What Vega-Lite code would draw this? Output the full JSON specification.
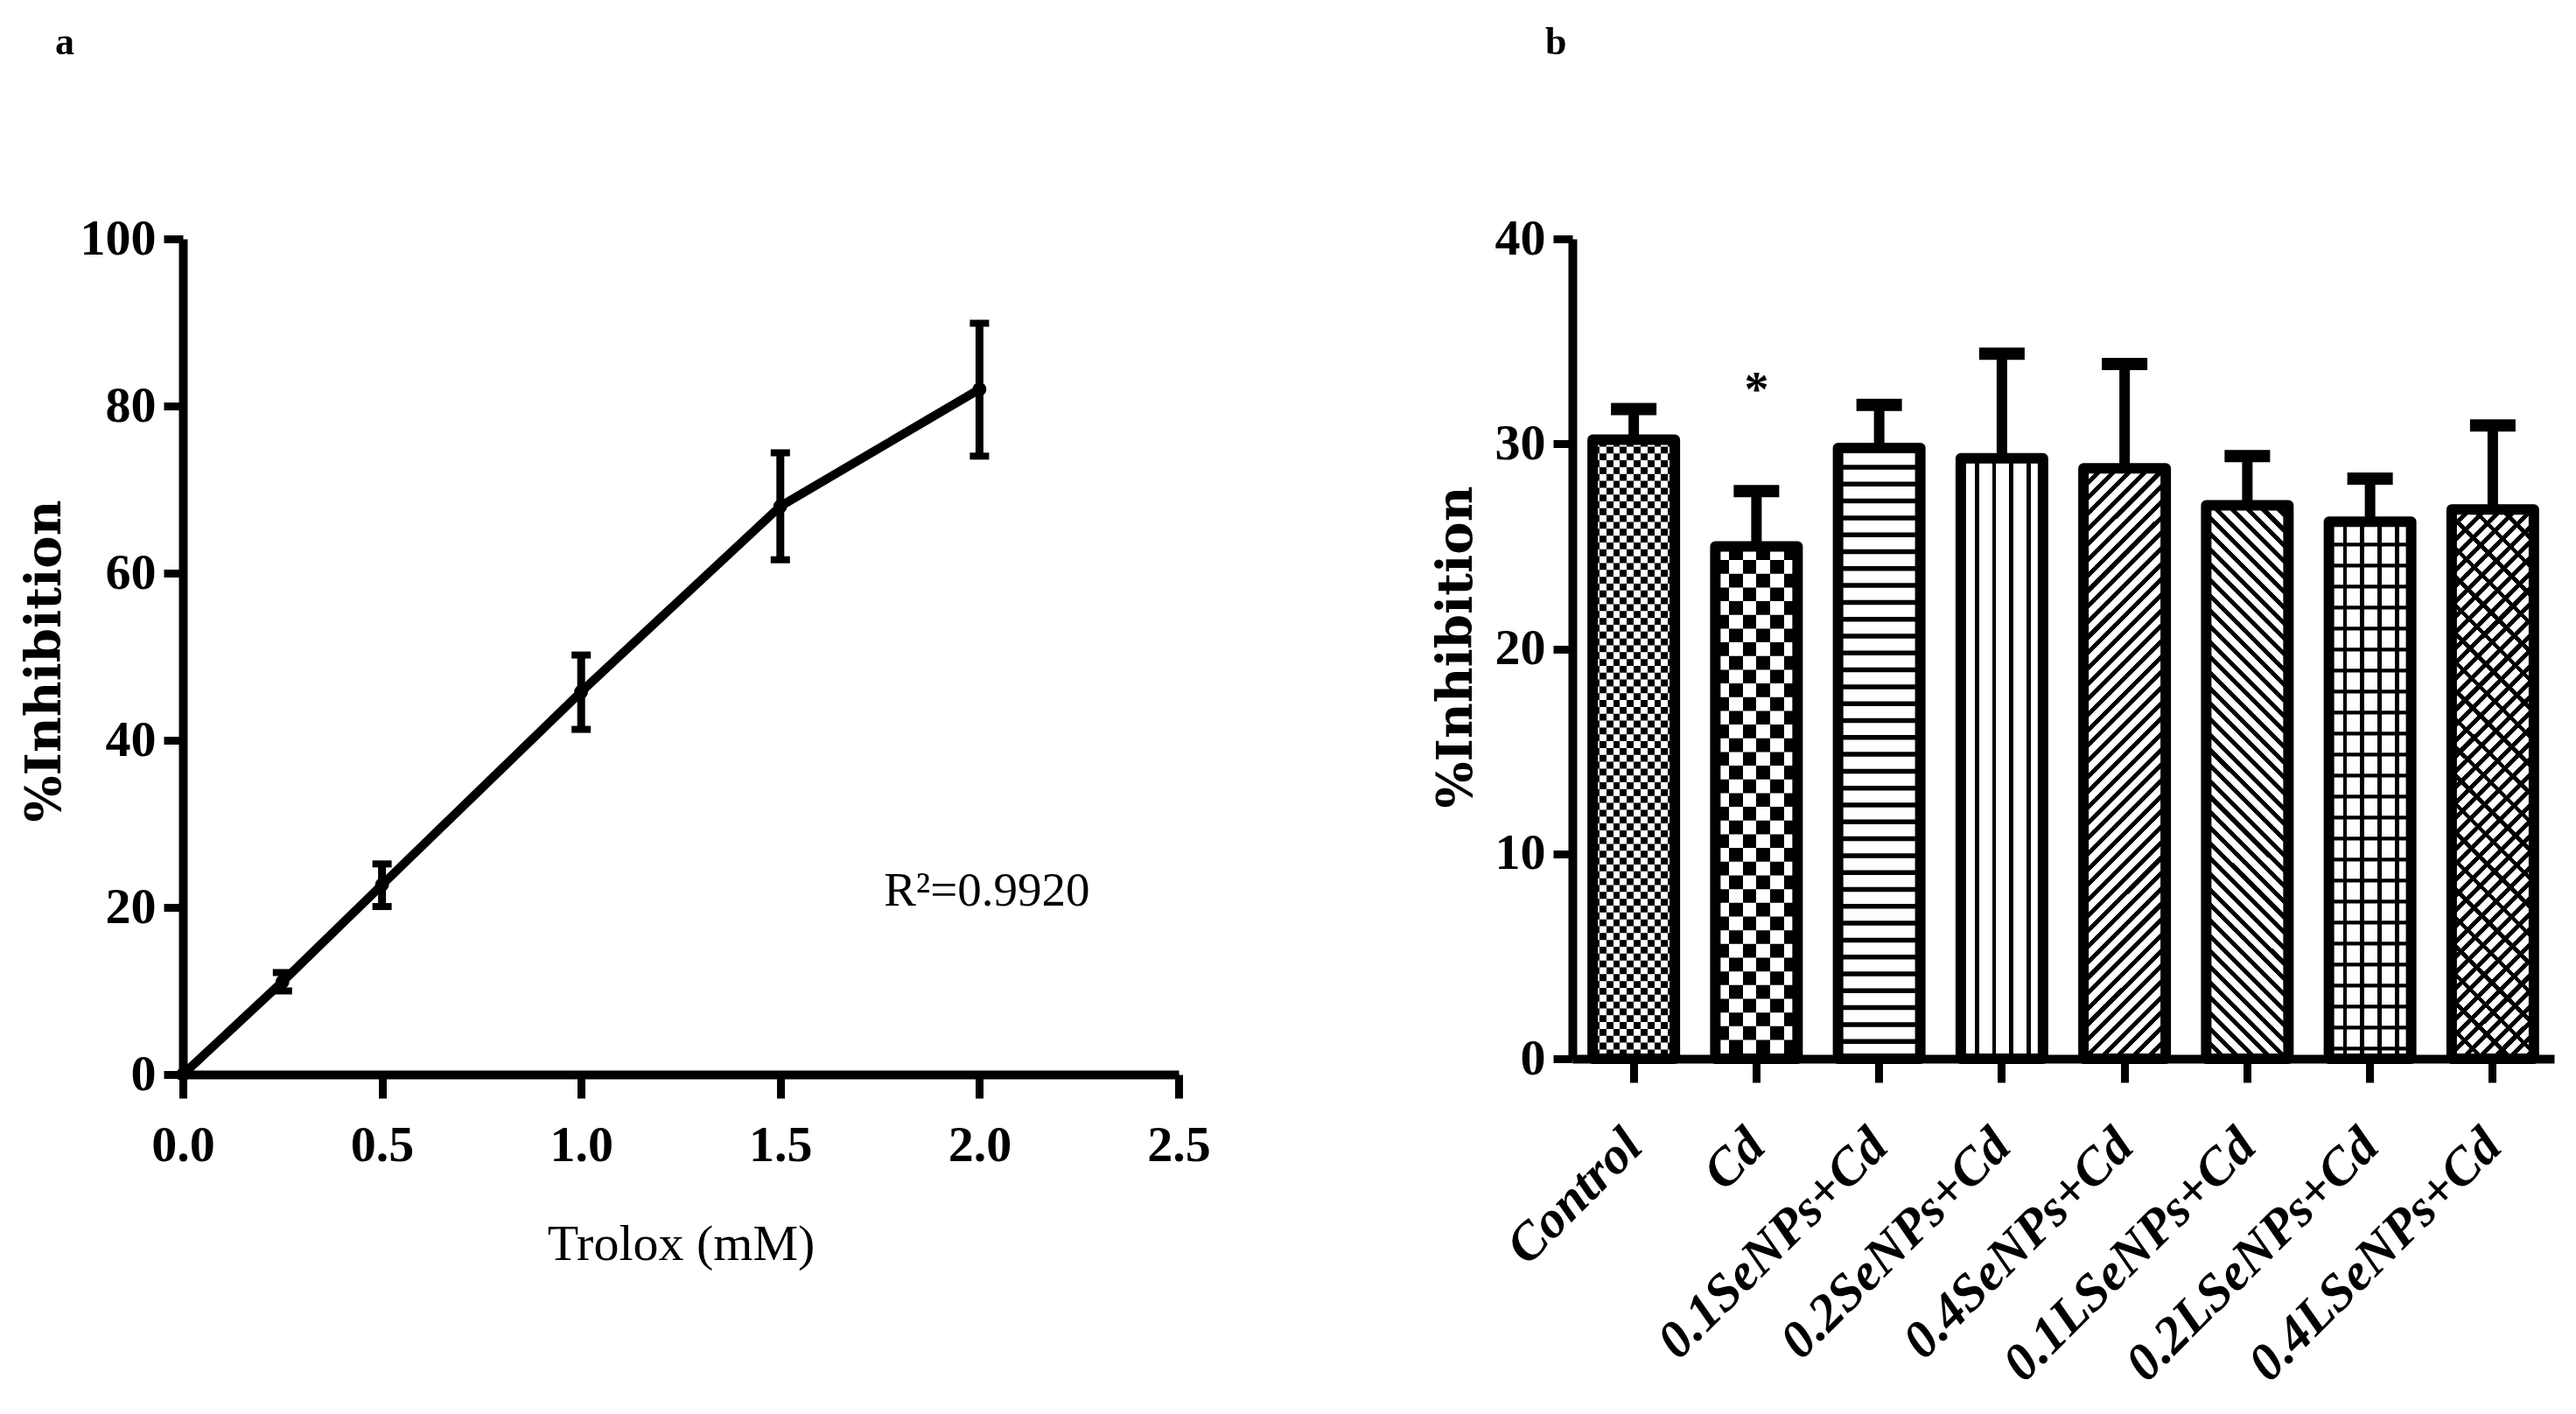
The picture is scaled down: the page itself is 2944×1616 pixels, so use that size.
{
  "$schema": "https://vega.github.io/schema/vega-lite/v6.json",
  "background": "white",
  "padding": {"left": 23, "top": 27, "right": 10, "bottom": 5},
  "params": [
    {"name": "vlines", "value": [
      {"offset":0,"color":"#fff"},{"offset":0.17,"color":"#fff"},{"offset":0.17,"color":"#000"},{"offset":0.22,"color":"#000"},
      {"offset":0.22,"color":"#fff"},{"offset":0.38,"color":"#fff"},{"offset":0.38,"color":"#000"},{"offset":0.43,"color":"#000"},
      {"offset":0.43,"color":"#fff"},{"offset":0.59,"color":"#fff"},{"offset":0.59,"color":"#000"},{"offset":0.64,"color":"#000"},
      {"offset":0.64,"color":"#fff"},{"offset":0.8,"color":"#fff"},{"offset":0.8,"color":"#000"},{"offset":0.85,"color":"#000"},
      {"offset":0.85,"color":"#fff"},{"offset":1,"color":"#fff"}
    ]},
    {"name": "col12", "value": [
      {"offset":0,"color":"#fff"},{"offset":0.0833,"color":"#fff"},{"offset":0.0833,"color":"#000"},{"offset":0.1667,"color":"#000"},
      {"offset":0.1667,"color":"#fff"},{"offset":0.25,"color":"#fff"},{"offset":0.25,"color":"#000"},{"offset":0.3333,"color":"#000"},
      {"offset":0.3333,"color":"#fff"},{"offset":0.4167,"color":"#fff"},{"offset":0.4167,"color":"#000"},{"offset":0.5,"color":"#000"},
      {"offset":0.5,"color":"#fff"},{"offset":0.5833,"color":"#fff"},{"offset":0.5833,"color":"#000"},{"offset":0.6667,"color":"#000"},
      {"offset":0.6667,"color":"#fff"},{"offset":0.75,"color":"#fff"},{"offset":0.75,"color":"#000"},{"offset":0.8333,"color":"#000"},
      {"offset":0.8333,"color":"#fff"},{"offset":0.9167,"color":"#fff"},{"offset":0.9167,"color":"#000"},{"offset":1,"color":"#000"}
    ]},
    {"name": "col6", "value": [
      {"offset":0,"color":"#fff"},{"offset":0.1667,"color":"#fff"},{"offset":0.1667,"color":"#000"},{"offset":0.3333,"color":"#000"},
      {"offset":0.3333,"color":"#fff"},{"offset":0.5,"color":"#fff"},{"offset":0.5,"color":"#000"},{"offset":0.6667,"color":"#000"},
      {"offset":0.6667,"color":"#fff"},{"offset":0.8333,"color":"#fff"},{"offset":0.8333,"color":"#000"},{"offset":1,"color":"#000"}
    ]},
    {"name": "thin", "value": [
      {"offset":0,"color":"#000"},{"offset":0.008,"color":"#000"},{"offset":0.008,"color":"#fff"},{"offset":0.04,"color":"#fff"},
      {"offset":0.04,"color":"#000"},{"offset":0.048,"color":"#000"},{"offset":0.048,"color":"#fff"},{"offset":0.08,"color":"#fff"},
      {"offset":0.08,"color":"#000"},{"offset":0.088,"color":"#000"},{"offset":0.088,"color":"#fff"},{"offset":0.12,"color":"#fff"},
      {"offset":0.12,"color":"#000"},{"offset":0.128,"color":"#000"},{"offset":0.128,"color":"#fff"},{"offset":0.16,"color":"#fff"},
      {"offset":0.16,"color":"#000"},{"offset":0.168,"color":"#000"},{"offset":0.168,"color":"#fff"},{"offset":0.2,"color":"#fff"},
      {"offset":0.2,"color":"#000"},{"offset":0.208,"color":"#000"},{"offset":0.208,"color":"#fff"},{"offset":0.24,"color":"#fff"},
      {"offset":0.24,"color":"#000"},{"offset":0.248,"color":"#000"},{"offset":0.248,"color":"#fff"},{"offset":0.28,"color":"#fff"},
      {"offset":0.28,"color":"#000"},{"offset":0.288,"color":"#000"},{"offset":0.288,"color":"#fff"},{"offset":0.32,"color":"#fff"},
      {"offset":0.32,"color":"#000"},{"offset":0.328,"color":"#000"},{"offset":0.328,"color":"#fff"},{"offset":0.36,"color":"#fff"},
      {"offset":0.36,"color":"#000"},{"offset":0.368,"color":"#000"},{"offset":0.368,"color":"#fff"},{"offset":0.4,"color":"#fff"},
      {"offset":0.4,"color":"#000"},{"offset":0.408,"color":"#000"},{"offset":0.408,"color":"#fff"},{"offset":0.44,"color":"#fff"},
      {"offset":0.44,"color":"#000"},{"offset":0.448,"color":"#000"},{"offset":0.448,"color":"#fff"},{"offset":0.48,"color":"#fff"},
      {"offset":0.48,"color":"#000"},{"offset":0.488,"color":"#000"},{"offset":0.488,"color":"#fff"},{"offset":0.52,"color":"#fff"},
      {"offset":0.52,"color":"#000"},{"offset":0.528,"color":"#000"},{"offset":0.528,"color":"#fff"},{"offset":0.56,"color":"#fff"},
      {"offset":0.56,"color":"#000"},{"offset":0.568,"color":"#000"},{"offset":0.568,"color":"#fff"},{"offset":0.6,"color":"#fff"},
      {"offset":0.6,"color":"#000"},{"offset":0.608,"color":"#000"},{"offset":0.608,"color":"#fff"},{"offset":0.64,"color":"#fff"},
      {"offset":0.64,"color":"#000"},{"offset":0.648,"color":"#000"},{"offset":0.648,"color":"#fff"},{"offset":0.68,"color":"#fff"},
      {"offset":0.68,"color":"#000"},{"offset":0.688,"color":"#000"},{"offset":0.688,"color":"#fff"},{"offset":0.72,"color":"#fff"},
      {"offset":0.72,"color":"#000"},{"offset":0.728,"color":"#000"},{"offset":0.728,"color":"#fff"},{"offset":0.76,"color":"#fff"},
      {"offset":0.76,"color":"#000"},{"offset":0.768,"color":"#000"},{"offset":0.768,"color":"#fff"},{"offset":0.8,"color":"#fff"},
      {"offset":0.8,"color":"#000"},{"offset":0.808,"color":"#000"},{"offset":0.808,"color":"#fff"},{"offset":0.84,"color":"#fff"},
      {"offset":0.84,"color":"#000"},{"offset":0.848,"color":"#000"},{"offset":0.848,"color":"#fff"},{"offset":0.88,"color":"#fff"},
      {"offset":0.88,"color":"#000"},{"offset":0.888,"color":"#000"},{"offset":0.888,"color":"#fff"},{"offset":0.92,"color":"#fff"},
      {"offset":0.92,"color":"#000"},{"offset":0.928,"color":"#000"},{"offset":0.928,"color":"#fff"},{"offset":0.96,"color":"#fff"},
      {"offset":0.96,"color":"#000"},{"offset":0.968,"color":"#000"},{"offset":0.968,"color":"#fff"},{"offset":1,"color":"#fff"}
    ]},
    {"name": "diag", "value": [
      {"offset":0,"color":"#000"},{"offset":0.008,"color":"#000"},{"offset":0.008,"color":"#fff"},{"offset":0.02,"color":"#fff"},
      {"offset":0.02,"color":"#000"},{"offset":0.028,"color":"#000"},{"offset":0.028,"color":"#fff"},{"offset":0.04,"color":"#fff"},
      {"offset":0.04,"color":"#000"},{"offset":0.048,"color":"#000"},{"offset":0.048,"color":"#fff"},{"offset":0.06,"color":"#fff"},
      {"offset":0.06,"color":"#000"},{"offset":0.068,"color":"#000"},{"offset":0.068,"color":"#fff"},{"offset":0.08,"color":"#fff"},
      {"offset":0.08,"color":"#000"},{"offset":0.088,"color":"#000"},{"offset":0.088,"color":"#fff"},{"offset":0.1,"color":"#fff"},
      {"offset":0.1,"color":"#000"},{"offset":0.108,"color":"#000"},{"offset":0.108,"color":"#fff"},{"offset":0.12,"color":"#fff"},
      {"offset":0.12,"color":"#000"},{"offset":0.128,"color":"#000"},{"offset":0.128,"color":"#fff"},{"offset":0.14,"color":"#fff"},
      {"offset":0.14,"color":"#000"},{"offset":0.148,"color":"#000"},{"offset":0.148,"color":"#fff"},{"offset":0.16,"color":"#fff"},
      {"offset":0.16,"color":"#000"},{"offset":0.168,"color":"#000"},{"offset":0.168,"color":"#fff"},{"offset":0.18,"color":"#fff"},
      {"offset":0.18,"color":"#000"},{"offset":0.188,"color":"#000"},{"offset":0.188,"color":"#fff"},{"offset":0.2,"color":"#fff"},
      {"offset":0.2,"color":"#000"},{"offset":0.208,"color":"#000"},{"offset":0.208,"color":"#fff"},{"offset":0.22,"color":"#fff"},
      {"offset":0.22,"color":"#000"},{"offset":0.228,"color":"#000"},{"offset":0.228,"color":"#fff"},{"offset":0.24,"color":"#fff"},
      {"offset":0.24,"color":"#000"},{"offset":0.248,"color":"#000"},{"offset":0.248,"color":"#fff"},{"offset":0.26,"color":"#fff"},
      {"offset":0.26,"color":"#000"},{"offset":0.268,"color":"#000"},{"offset":0.268,"color":"#fff"},{"offset":0.28,"color":"#fff"},
      {"offset":0.28,"color":"#000"},{"offset":0.288,"color":"#000"},{"offset":0.288,"color":"#fff"},{"offset":0.3,"color":"#fff"},
      {"offset":0.3,"color":"#000"},{"offset":0.308,"color":"#000"},{"offset":0.308,"color":"#fff"},{"offset":0.32,"color":"#fff"},
      {"offset":0.32,"color":"#000"},{"offset":0.328,"color":"#000"},{"offset":0.328,"color":"#fff"},{"offset":0.34,"color":"#fff"},
      {"offset":0.34,"color":"#000"},{"offset":0.348,"color":"#000"},{"offset":0.348,"color":"#fff"},{"offset":0.36,"color":"#fff"},
      {"offset":0.36,"color":"#000"},{"offset":0.368,"color":"#000"},{"offset":0.368,"color":"#fff"},{"offset":0.38,"color":"#fff"},
      {"offset":0.38,"color":"#000"},{"offset":0.388,"color":"#000"},{"offset":0.388,"color":"#fff"},{"offset":0.4,"color":"#fff"},
      {"offset":0.4,"color":"#000"},{"offset":0.408,"color":"#000"},{"offset":0.408,"color":"#fff"},{"offset":0.42,"color":"#fff"},
      {"offset":0.42,"color":"#000"},{"offset":0.428,"color":"#000"},{"offset":0.428,"color":"#fff"},{"offset":0.44,"color":"#fff"},
      {"offset":0.44,"color":"#000"},{"offset":0.448,"color":"#000"},{"offset":0.448,"color":"#fff"},{"offset":0.46,"color":"#fff"},
      {"offset":0.46,"color":"#000"},{"offset":0.468,"color":"#000"},{"offset":0.468,"color":"#fff"},{"offset":0.48,"color":"#fff"},
      {"offset":0.48,"color":"#000"},{"offset":0.488,"color":"#000"},{"offset":0.488,"color":"#fff"},{"offset":0.5,"color":"#fff"},
      {"offset":0.5,"color":"#000"},{"offset":0.508,"color":"#000"},{"offset":0.508,"color":"#fff"},{"offset":0.52,"color":"#fff"},
      {"offset":0.52,"color":"#000"},{"offset":0.528,"color":"#000"},{"offset":0.528,"color":"#fff"},{"offset":0.54,"color":"#fff"},
      {"offset":0.54,"color":"#000"},{"offset":0.548,"color":"#000"},{"offset":0.548,"color":"#fff"},{"offset":0.56,"color":"#fff"},
      {"offset":0.56,"color":"#000"},{"offset":0.568,"color":"#000"},{"offset":0.568,"color":"#fff"},{"offset":0.58,"color":"#fff"},
      {"offset":0.58,"color":"#000"},{"offset":0.588,"color":"#000"},{"offset":0.588,"color":"#fff"},{"offset":0.6,"color":"#fff"},
      {"offset":0.6,"color":"#000"},{"offset":0.608,"color":"#000"},{"offset":0.608,"color":"#fff"},{"offset":0.62,"color":"#fff"},
      {"offset":0.62,"color":"#000"},{"offset":0.628,"color":"#000"},{"offset":0.628,"color":"#fff"},{"offset":0.64,"color":"#fff"},
      {"offset":0.64,"color":"#000"},{"offset":0.648,"color":"#000"},{"offset":0.648,"color":"#fff"},{"offset":0.66,"color":"#fff"},
      {"offset":0.66,"color":"#000"},{"offset":0.668,"color":"#000"},{"offset":0.668,"color":"#fff"},{"offset":0.68,"color":"#fff"},
      {"offset":0.68,"color":"#000"},{"offset":0.688,"color":"#000"},{"offset":0.688,"color":"#fff"},{"offset":0.7,"color":"#fff"},
      {"offset":0.7,"color":"#000"},{"offset":0.708,"color":"#000"},{"offset":0.708,"color":"#fff"},{"offset":0.72,"color":"#fff"},
      {"offset":0.72,"color":"#000"},{"offset":0.728,"color":"#000"},{"offset":0.728,"color":"#fff"},{"offset":0.74,"color":"#fff"},
      {"offset":0.74,"color":"#000"},{"offset":0.748,"color":"#000"},{"offset":0.748,"color":"#fff"},{"offset":0.76,"color":"#fff"},
      {"offset":0.76,"color":"#000"},{"offset":0.768,"color":"#000"},{"offset":0.768,"color":"#fff"},{"offset":0.78,"color":"#fff"},
      {"offset":0.78,"color":"#000"},{"offset":0.788,"color":"#000"},{"offset":0.788,"color":"#fff"},{"offset":0.8,"color":"#fff"},
      {"offset":0.8,"color":"#000"},{"offset":0.808,"color":"#000"},{"offset":0.808,"color":"#fff"},{"offset":0.82,"color":"#fff"},
      {"offset":0.82,"color":"#000"},{"offset":0.828,"color":"#000"},{"offset":0.828,"color":"#fff"},{"offset":0.84,"color":"#fff"},
      {"offset":0.84,"color":"#000"},{"offset":0.848,"color":"#000"},{"offset":0.848,"color":"#fff"},{"offset":0.86,"color":"#fff"},
      {"offset":0.86,"color":"#000"},{"offset":0.868,"color":"#000"},{"offset":0.868,"color":"#fff"},{"offset":0.88,"color":"#fff"},
      {"offset":0.88,"color":"#000"},{"offset":0.888,"color":"#000"},{"offset":0.888,"color":"#fff"},{"offset":0.9,"color":"#fff"},
      {"offset":0.9,"color":"#000"},{"offset":0.908,"color":"#000"},{"offset":0.908,"color":"#fff"},{"offset":0.92,"color":"#fff"},
      {"offset":0.92,"color":"#000"},{"offset":0.928,"color":"#000"},{"offset":0.928,"color":"#fff"},{"offset":0.94,"color":"#fff"},
      {"offset":0.94,"color":"#000"},{"offset":0.948,"color":"#000"},{"offset":0.948,"color":"#fff"},{"offset":0.96,"color":"#fff"},
      {"offset":0.96,"color":"#000"},{"offset":0.968,"color":"#000"},{"offset":0.968,"color":"#fff"},{"offset":0.98,"color":"#fff"},
      {"offset":0.98,"color":"#000"},{"offset":0.988,"color":"#000"},{"offset":0.988,"color":"#fff"},{"offset":1,"color":"#fff"}
    ]}
  ],
  "config": {
    "view": {"stroke": null},
    "font": "Liberation Serif",
    "axis": {
      "domainColor": "black", "domainWidth": 10, "tickColor": "black", "tickWidth": 9,
      "grid": false, "labelColor": "black", "titleColor": "black",
      "labelFont": "Liberation Serif", "labelFontWeight": "bold", "labelFontSize": 58,
      "labelPadding": 9, "labelFlush": false, "labelLimit": 1000, "labelOverlap": false
    },
    "axisX": {"tickSize": 27},
    "axisY": {"tickSize": 22},
    "title": {
      "font": "Liberation Serif", "fontWeight": "bold", "fontSize": 44, "color": "black",
      "anchor": "start", "frame": "group", "orient": "top", "baseline": "alphabetic", "offset": 173
    }
  },
  "spacing": 450,
  "bounds": "flush",
  "hconcat": [
    {
      "width": 1138,
      "height": 955,
      "title": {"text": "a", "dx": -146},
      "data": {"values": [
        {"conc": 0, "mean": 0, "lo": 0, "hi": 0},
        {"conc": 0.25, "mean": 11.1, "lo": 10.0, "hi": 12.2},
        {"conc": 0.5, "mean": 22.7, "lo": 20.1, "hi": 25.2},
        {"conc": 1.0, "mean": 45.8, "lo": 41.3, "hi": 50.2},
        {"conc": 1.5, "mean": 68.0, "lo": 61.6, "hi": 74.4},
        {"conc": 2.0, "mean": 82.0, "lo": 74.0, "hi": 89.9}
      ]},
      "encoding": {
        "x": {
          "field": "conc", "type": "quantitative",
          "scale": {"domain": [0, 2.5], "nice": false},
          "axis": {
            "values": [0, 0.5, 1, 1.5, 2, 2.5], "format": ".1f", "labelPadding": 25,
            "title": "Trolox (mM)", "titleFont": "Liberation Serif", "titleFontWeight": "normal",
            "titleFontSize": 58, "titleX": 569, "titleY": 211, "titleBaseline": "alphabetic"
          }
        },
        "y": {
          "field": "mean", "type": "quantitative",
          "scale": {"domain": [0, 100], "nice": false},
          "axis": {
            "values": [0, 20, 40, 60, 80, 100],
            "title": "%Inhibition", "titleFont": "DejaVu Serif", "titleFontWeight": "bold",
            "titleFontSize": 56, "titleX": -141, "titleY": 482, "titleBaseline": "alphabetic"
          }
        }
      },
      "layer": [
        {"mark": {"type": "line", "color": "black", "strokeWidth": 10, "strokeJoin": "round", "strokeCap": "round"}},
        {"mark": {"type": "point", "filled": true, "color": "black", "size": 250, "opacity": 1}},
        {
          "transform": [{"filter": "datum.conc > 0"}],
          "mark": {"type": "rule", "color": "black", "strokeWidth": 9},
          "encoding": {"y": {"field": "lo", "type": "quantitative"}, "y2": {"field": "hi"}}
        },
        {
          "transform": [{"filter": "datum.conc > 0"}],
          "mark": {"type": "tick", "orient": "horizontal", "color": "black", "size": 22, "thickness": 8, "opacity": 1},
          "encoding": {"y": {"field": "hi", "type": "quantitative"}}
        },
        {
          "transform": [{"filter": "datum.conc > 0"}],
          "mark": {"type": "tick", "orient": "horizontal", "color": "black", "size": 22, "thickness": 8, "opacity": 1},
          "encoding": {"y": {"field": "lo", "type": "quantitative"}}
        },
        {
          "transform": [{"filter": "datum.conc === 2"}],
          "mark": {"type": "text", "text": "R²=0.9920", "align": "left", "baseline": "alphabetic", "fontSize": 55, "font": "Liberation Serif", "fontWeight": "normal", "color": "black"},
          "encoding": {"x": {"datum": 1.76, "type": "quantitative"}, "y": {"datum": 20.2, "type": "quantitative"}}
        }
      ]
    },
    {
      "width": 1122,
      "height": 937,
      "title": {"text": "b", "dx": -31},
      "data": {"values": [
        {"group": "Control", "mean": 30.2, "hi": 31.7},
        {"group": "Cd", "mean": 25.0, "hi": 27.7, "sig": "*"},
        {"group": "0.1SeNPs+Cd", "mean": 29.8, "hi": 31.9},
        {"group": "0.2SeNPs+Cd", "mean": 29.3, "hi": 34.4},
        {"group": "0.4SeNPs+Cd", "mean": 28.8, "hi": 33.9},
        {"group": "0.1LSeNPs+Cd", "mean": 27.0, "hi": 29.4},
        {"group": "0.2LSeNPs+Cd", "mean": 26.2, "hi": 28.3},
        {"group": "0.4LSeNPs+Cd", "mean": 26.8, "hi": 30.9}
      ]},
      "encoding": {
        "x": {
          "field": "group", "type": "nominal", "sort": null,
          "scale": {"paddingInner": 0.33, "paddingOuter": 0.165},
          "axis": {
            "title": null, "labelAngle": -45, "labelAlign": "right", "labelBaseline": "middle",
            "labelFontStyle": "italic", "labelFontSize": 60, "labelPadding": 63
          }
        },
        "y": {
          "field": "mean", "type": "quantitative",
          "scale": {"domain": [0, 40], "nice": false},
          "axis": {
            "values": [0, 10, 20, 30, 40],
            "title": "%Inhibition", "titleFont": "DejaVu Serif", "titleFontWeight": "bold",
            "titleFontSize": 56, "titleX": -116, "titleY": 466, "titleBaseline": "alphabetic"
          }
        }
      },
      "layer": [
        {
          "mark": {
            "type": "bar", "stroke": null,
            "fill": {"expr": "datum.group === '0.2SeNPs+Cd' || datum.group === '0.2LSeNPs+Cd' ? {gradient: 'linear', x1: 0, y1: 0, x2: 1, y2: 0, stops: vlines} : datum.group === '0.4SeNPs+Cd' ? {gradient: 'linear', x1: 0, y1: 0, x2: 0.1789, y2: 1.2854, stops: diag} : datum.group === '0.1LSeNPs+Cd' ? {gradient: 'linear', x1: 0, y1: 1, x2: 0.2030, y2: -0.3675, stops: diag} : datum.group === '0.4LSeNPs+Cd' ? {gradient: 'linear', x1: 0, y1: 0, x2: 0.2060, y2: 1.3773, stops: diag} : 'white'"}
          }
        },
        {
          "transform": [{"filter": "indexof(['Control', 'Cd', '0.1SeNPs+Cd', '0.2LSeNPs+Cd'], datum.group) >= 0"}],
          "mark": {
            "type": "rule", "color": "black", "strokeWidth": 94, "strokeCap": "butt",
            "strokeDash": {"expr": "datum.group === 'Control' ? [7.83, 7.83] : datum.group === 'Cd' ? [15.67, 15.67] : datum.group === '0.1SeNPs+Cd' ? [5.5, 13.8] : [4.3, 19.7]"}
          },
          "encoding": {"y2": {"datum": 0}}
        },
        {
          "transform": [{"filter": "datum.group === 'Control' || datum.group === 'Cd'"}],
          "mark": {
            "type": "bar", "stroke": null, "blend": "difference",
            "fill": {"expr": "datum.group === 'Control' ? {gradient: 'linear', x1: 0, y1: 0, x2: 1, y2: 0, stops: col12} : {gradient: 'linear', x1: 0, y1: 0, x2: 1, y2: 0, stops: col6}"}
          }
        },
        {
          "transform": [{"filter": "datum.group === '0.4LSeNPs+Cd'"}],
          "mark": {
            "type": "bar", "stroke": null, "blend": "multiply",
            "fill": {"expr": "{gradient: 'linear', x1: 0, y1: 1, x2: 0.18912, y2: -0.26448, stops: thin}"}
          }
        },
        {"mark": {"type": "bar", "filled": false, "color": "black", "strokeWidth": 12, "strokeJoin": "round"}},
        {
          "mark": {"type": "rule", "color": "black", "strokeWidth": 12},
          "encoding": {"y2": {"field": "hi"}}
        },
        {
          "mark": {"type": "tick", "orient": "horizontal", "color": "black", "size": 52, "thickness": 14, "opacity": 1},
          "encoding": {"y": {"field": "hi", "type": "quantitative"}}
        },
        {
          "transform": [{"filter": "datum.sig"}],
          "mark": {"type": "text", "fontSize": 56, "fontWeight": "bold", "color": "black", "baseline": "alphabetic", "dy": -97},
          "encoding": {"y": {"field": "hi", "type": "quantitative"}, "text": {"field": "sig"}}
        }
      ]
    }
  ]
}
